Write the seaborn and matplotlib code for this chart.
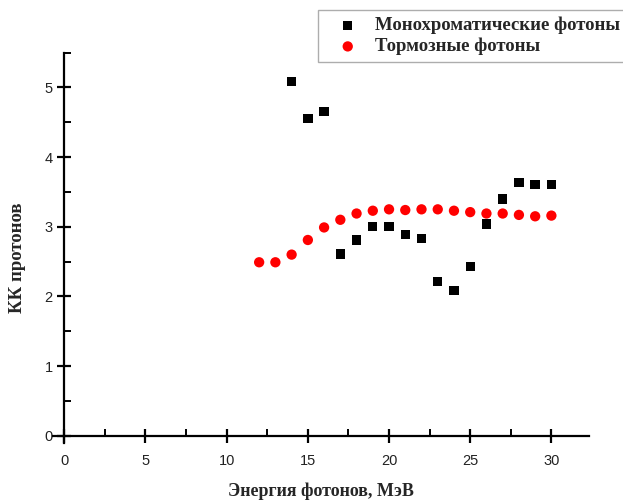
import matplotlib.pyplot as plt
import seaborn as sns
import pandas as pd
from matplotlib.ticker import MultipleLocator

energy_mono = [14, 15, 16, 17, 18, 19, 20, 21, 22, 23, 24, 25, 26, 27, 28, 29, 30]
kk_mono = [5.09, 4.55, 4.65, 2.61, 2.81, 3.00, 3.00, 2.89, 2.83, 2.21, 2.08, 2.43,
           3.04, 3.40, 3.64, 3.61, 3.61]

energy_brems = [12, 13, 14, 15, 16, 17, 18, 19, 20, 21, 22, 23, 24, 25, 26, 27, 28, 29, 30]
kk_brems = [2.49, 2.49, 2.60, 2.81, 2.99, 3.10, 3.19, 3.23, 3.25, 3.24, 3.25, 3.25,
            3.23, 3.21, 3.19, 3.19, 3.17, 3.15, 3.16]

label_mono = 'Монохроматические фотоны'
label_brems = 'Тормозные фотоны'

df_mono = pd.DataFrame({'E': energy_mono, 'KK': kk_mono})
df_brems = pd.DataFrame({'E': energy_brems, 'KK': kk_brems})

sns.set_theme(style="white")
plt.rcParams['font.family'] = ['Liberation Sans', 'DejaVu Sans']

px = 1 / 100
fig = plt.figure(figsize=(623 * px, 501 * px), dpi=100)
ax = fig.add_axes([0.085, 0.115, 0.86, 0.78])

sns.scatterplot(data=df_mono, x='E', y='KK', marker='s', s=45, color='black',
                edgecolor='none', label=label_mono, ax=ax)
sns.scatterplot(data=df_brems, x='E', y='KK', marker='o', s=55, color='red',
                edgecolor='none', label=label_brems, ax=ax)

ax.set_xlim(-0.7, 32.3)
ax.set_ylim(-0.11, 5.5)
ax.spines['left'].set_position(('data', 0))
ax.spines['bottom'].set_position(('data', 0))
ax.spines['top'].set_visible(False)
ax.spines['right'].set_visible(False)
for side in ['left', 'bottom']:
    ax.spines[side].set_linewidth(1.6)
    ax.spines[side].set_color('black')

ax.xaxis.set_major_locator(MultipleLocator(5))
ax.xaxis.set_minor_locator(MultipleLocator(2.5))
ax.yaxis.set_major_locator(MultipleLocator(1))
ax.yaxis.set_minor_locator(MultipleLocator(0.5))
ax.tick_params(which='major', direction='inout', length=10, width=1.6, color='black',
               labelsize=10.5, labelcolor='#222222', bottom=True, left=True)
ax.tick_params(which='minor', direction='in', length=5, width=1.4, color='black',
               bottom=True, left=True)
ax.tick_params(axis='x', pad=8)

ax.set_xlabel('Энергия фотонов, МэВ', family=['Liberation Serif'], fontweight='bold',
              fontsize=13)
ax.set_ylabel('КК протонов', family=['Liberation Serif'], fontweight='bold',
              fontsize=13.5)
ax.xaxis.set_label_coords(0.50, -0.1)
ax.yaxis.set_label_coords(-0.05, 0.476)

leg = ax.legend(loc='upper left', bbox_to_anchor=(0.51, 0.98), bbox_transform=fig.transFigure,
                frameon=True, fancybox=False, edgecolor='#999999', borderpad=0.35,
                handlelength=2.5, handletextpad=0.19, labelspacing=0.2, borderaxespad=0,
                prop={'family': 'Liberation Serif', 'weight': 'bold', 'size': 13.5})
leg.get_frame().set_linewidth(1.0)

fig.savefig('out.png', dpi=100)
